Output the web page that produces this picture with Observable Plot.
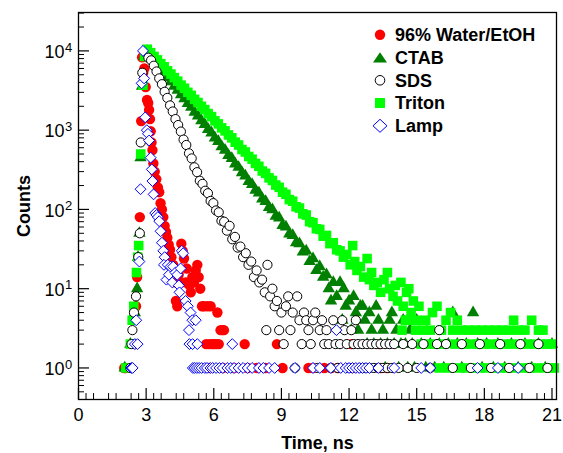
<!DOCTYPE html>
<html><head><meta charset="utf-8">
<script src="https://cdn.jsdelivr.net/npm/d3@7"></script>
<script src="https://cdn.jsdelivr.net/npm/@observablehq/plot@0.6"></script>
<style>
html,body{margin:0;padding:0;background:#fff;}
#wrap{position:relative;width:563px;height:453px;}
#overlay{position:absolute;left:0;top:0;pointer-events:none;}
</style></head><body>
<div id="wrap"><div id="chart"></div><svg id="overlay" width="563" height="453"></svg></div>
<script>
// ---- tick labels ----
const xTickValues = [0,3,6,9,12,15,18,21];
const xTickLabels = ["0","3","6","9","12","15","18","21"];
const yTickValues = [1,10,100,1000,10000];
const yTickExp = ["0","1","2","3","4"];
const seriesNames = ["96% Water/EtOH","CTAB","SDS","Triton","Lamp"];

// ---- data: [time (ns), counts] ----
const water = [[2.03,1],[2.09,1],[2.5,2],[2.55,6],[2.6,14],[2.72,80],[2.78,1300],[2.82,8300],[2.87,5300],[2.92,6000],[2.98,3500],[3.04,2400],[3.09,2200],[3.13,1800],[3.17,1380],[3.2,970],[3.24,700],[3.28,560],[3.32,380],[3.38,300],[3.45,240],[3.52,190],[3.58,165],[3.64,120],[3.7,100],[3.76,80],[3.82,62],[3.88,52],[3.94,44],[4.0,36],[4.06,31],[4.12,25],[4.2,20],[4.27,12],[4.32,7],[4.38,6],[4.44,15],[4.5,12],[4.56,37],[4.62,30],[4.68,24],[4.74,12],[4.8,18],[4.87,12],[4.93,11],[4.98,9],[5.05,14],[5.12,12],[5.2,17],[5.27,20],[5.33,14],[5.4,10],[5.48,6],[5.57,6],[5.66,2],[5.72,6],[5.8,2],[5.86,6],[5.93,2],[6.0,2],[6.1,2],[6.16,5],[6.22,2],[6.3,3],[6.38,3],[6.45,3],[5.8,1],[6.4,1],[6.9,1],[7.37,2],[7.5,1],[7.9,1],[8.3,1],[8.8,2],[9.05,1],[10.2,1],[10.4,1],[10.9,1],[11.2,1],[11.5,1],[12.1,2],[12.15,1],[13.35,2],[13.4,1],[13.7,1]];

const ctab = [[2.05,1],[2.3,2],[2.5,5],[2.6,10],[2.64,25],[2.7,50],[2.75,450],[2.82,3600],[2.92,8600],[3.05,9800],[3.2,8700],[3.35,7600],[3.5,6800],[3.65,5900],[3.8,5300],[3.95,4600],[4.1,4100],[4.25,3600],[4.4,3200],[4.55,2800],[4.7,2500],[4.85,2180],[5.0,1950],[5.15,1690],[5.3,1510],[5.45,1320],[5.6,1180],[5.75,1020],[5.9,920],[6.05,800],[6.2,720],[6.35,620],[6.5,560],[6.65,480],[6.8,440],[6.95,375],[7.1,340],[7.25,290],[7.4,265],[7.55,226],[7.7,207],[7.85,175],[8.0,162],[8.15,136],[8.3,126],[8.45,106],[8.6,99],[8.75,82],[8.9,78],[9.05,63],[9.2,60],[9.35,49],[9.5,47],[9.65,38],[9.8,37],[9.95,29],[10.1,30],[10.25,22],[10.4,24],[10.55,17],[10.7,19],[10.85,14],[11.0,15],[11.1,10],[11.2,7],[11.3,12],[11.45,8],[11.6,12],[11.7,4],[11.76,10],[11.85,6],[12.0,7],[12.1,3],[12.2,8],[12.3,5],[12.4,3],[12.5,6],[12.6,6],[12.7,4],[12.8,2],[12.9,5],[13.0,3],[13.1,2],[13.2,6],[13.3,4],[13.4,2],[13.5,3],[13.6,1],[13.7,2],[13.8,4],[13.9,5],[14.0,2],[14.1,3],[14.2,1],[14.3,2],[14.4,4],[14.5,2],[14.6,1],[14.7,3],[14.8,2],[14.9,1],[15.0,4],[15.2,2],[15.4,1],[15.6,2],[15.8,1],[16.0,2],[16.2,1],[16.4,2],[16.6,5],[16.8,2],[17.0,1],[17.2,2],[17.5,5],[17.7,2],[17.9,1],[18.1,2],[18.4,1],[18.6,2],[18.9,1],[19.2,2],[19.5,1],[19.8,2],[20.1,1],[20.4,2],[20.7,1],[21.0,2]];

const sds = [[2.3,1],[2.35,2],[2.39,3],[2.46,5],[2.55,8],[2.65,25],[2.72,50],[2.76,700],[2.83,5300],[3.1,8200],[3.22,7600],[3.34,6500],[3.46,5500],[3.58,4500],[3.7,3800],[3.82,3050],[3.94,2550],[4.06,2050],[4.18,1720],[4.3,1380],[4.42,1160],[4.54,960],[4.66,760],[4.78,650],[4.9,510],[5.02,440],[5.14,340],[5.26,295],[5.38,230],[5.5,210],[5.62,172],[5.74,160],[5.86,128],[5.98,120],[6.1,97],[6.22,92],[6.34,72],[6.46,70],[6.58,54],[6.7,62],[6.82,42],[6.94,45],[7.06,33],[7.18,34],[7.3,25],[7.42,28],[7.54,20],[7.66,22],[7.78,14],[7.9,17],[8.02,12],[8.14,13],[8.26,9],[8.33,3],[8.38,20],[8.5,8],[8.6,10],[8.7,6],[8.8,7],[8.9,3],[9.0,5],[9.1,2],[9.2,6],[9.3,8],[9.4,3],[9.5,5],[9.6,1],[9.7,8],[9.8,4],[9.9,2],[10.0,5],[10.1,4],[10.2,3],[10.3,2],[10.4,4],[10.5,5],[10.6,1],[10.7,3],[10.8,4],[10.9,2],[11.0,3],[11.1,2],[11.2,1],[11.3,4],[11.4,2],[11.5,1],[11.6,2],[11.7,4],[11.8,3],[11.9,2],[12.0,1],[12.1,3],[12.2,2],[12.3,4],[12.4,2],[12.5,1],[12.6,2],[12.7,1],[12.8,2],[12.9,1],[13.0,2],[13.1,1],[13.2,2],[13.3,1],[13.4,2],[13.5,1],[13.6,2],[13.7,1],[13.8,2],[13.9,1],[14.0,2],[14.2,1],[14.4,2],[14.6,1],[14.8,2],[15.0,1],[15.3,2],[15.6,1],[15.9,2],[16.0,3],[16.3,2],[16.6,1],[17.0,2],[17.4,1],[17.8,2],[18.3,1],[18.7,2],[19.1,1],[19.6,2],[20.0,1],[20.4,2],[20.8,1]];

const triton = [[2.1,1],[2.3,2],[2.38,4],[2.45,6],[2.57,16],[2.63,25],[2.67,35],[2.76,500],[2.86,3700],[2.93,8500],[3.05,10500],[3.2,9500],[3.35,8500],[3.5,7700],[3.65,6900],[3.8,6300],[3.95,5600],[4.1,5100],[4.25,4600],[4.4,4150],[4.55,3700],[4.7,3380],[4.85,3000],[5.0,2750],[5.15,2450],[5.3,2230],[5.45,2000],[5.6,1820],[5.75,1620],[5.9,1480],[6.05,1310],[6.2,1200],[6.35,1070],[6.5,980],[6.65,870],[6.8,800],[6.95,705],[7.1,650],[7.25,570],[7.4,530],[7.55,465],[7.7,430],[7.85,380],[8.0,350],[8.15,305],[8.3,285],[8.45,250],[8.6,232],[8.75,203],[8.9,190],[9.05,165],[9.2,155],[9.35,133],[9.5,127],[9.65,108],[9.8,104],[9.95,88],[10.1,85],[10.25,70],[10.4,68],[10.55,57],[10.7,56],[10.85,46],[11.0,47],[11.15,37],[11.3,38],[11.45,31],[11.6,30],[11.75,25],[11.9,27],[12.05,20],[12.16,35],[12.25,22],[12.35,17],[12.5,19],[12.65,14],[12.8,24],[12.9,13],[13.0,16],[13.1,11],[13.25,12],[13.4,9],[13.55,13],[13.7,16],[13.8,10],[13.95,8],[14.05,11],[14.15,7],[14.3,12],[14.35,3],[14.4,6],[14.5,4],[14.55,9],[14.6,4],[14.65,10],[14.75,5],[14.85,7],[14.95,3],[15.0,4],[15.1,6],[15.2,2],[15.3,3],[15.4,4],[15.5,2],[15.6,3],[15.7,5],[15.8,2],[15.9,6],[16.0,1],[16.1,3],[16.2,2],[16.3,4],[16.4,1],[16.5,5],[16.6,3],[16.7,2],[16.8,4],[16.9,1],[17.0,3],[17.1,2],[17.2,1],[17.3,3],[17.4,2],[17.5,1],[17.6,3],[17.7,2],[17.8,1],[17.9,3],[18.0,2],[18.1,1],[18.2,3],[18.3,2],[18.4,1],[18.5,3],[18.6,2],[18.7,1],[18.8,3],[18.9,2],[19.0,1],[19.1,3],[19.2,2],[19.3,4],[19.4,1],[19.5,3],[19.6,2],[19.7,1],[19.8,3],[19.9,2],[20.0,1],[20.1,4],[20.2,2],[20.3,1],[20.4,3],[20.5,2],[20.6,3],[20.7,1],[20.8,2],[20.9,1],[21.0,2],[21.1,1]];

const lamp = [[2.35,1],[2.4,1],[2.5,2],[2.62,2],[2.56,4],[2.7,22],[2.75,180],[2.8,3900],[2.86,10000],[2.91,4500],[2.96,1450],[3.03,1000],[3.08,900],[3.13,740],[3.2,450],[3.25,320],[3.28,228],[3.33,155],[3.4,90],[3.46,85],[3.52,80],[3.58,71],[3.64,53],[3.7,38],[3.76,30],[3.82,25],[3.79,20],[3.9,13],[3.96,20],[4.01,15],[4.08,19],[4.16,12],[4.2,19],[4.3,16],[4.38,15],[4.45,11],[4.48,9],[4.53,18],[4.58,30],[4.64,28],[4.75,7],[4.85,6],[4.97,5],[5.05,4],[5.2,4],[4.9,3],[4.92,2],[5.06,2],[5.27,2],[6.82,2],[11.44,3],[5.07,1],[5.15,1],[5.25,1],[5.35,1],[5.46,1],[5.6,1],[5.7,1],[5.85,1],[5.95,1],[6.1,1],[6.25,1],[6.4,1],[6.6,1],[6.75,1],[6.9,1],[7.1,1],[7.3,1],[7.5,1],[7.7,1],[8.0,1],[8.2,1],[8.45,1],[8.7,1],[9.6,1],[10.4,1],[10.7,1],[11.19,1],[11.63,1],[11.85,1],[12.0,1],[12.15,1],[12.3,1],[12.45,1],[12.6,1],[12.75,1],[12.9,1],[13.3,1],[14.0,1],[15.2,1],[15.6,1],[17.7,1],[18.6,1],[19.5,1]];

// ---- layout ----
const W = 563, H = 453, mL = 78, mR = 7, mT = 12, mB = 54;
const plotW = W - mL - mR, plotH = H - mT - mB;
const xMinor = d3.range(1, 64).filter(i => i % 3).map(i => i / 3);
const yMinor = [];
for (let k = -1; k <= 4; k++) for (let m = 2; m <= 9; m++) { const v = m * Math.pow(10, k); if (v >= 0.4 && v <= 30500) yMinor.push(v); }

const font = "'Liberation Sans', Arial, Helvetica, sans-serif";
const px = d => d[0], py = d => d[1];

const chart = Plot.plot({
  width: W, height: H,
  marginLeft: mL, marginRight: mR, marginTop: mT, marginBottom: mB,
  style: {fontFamily: font, fontSize: "18px", background: "white", color: "black"},
  x: {domain: [0, 21.2], axis: null},
  y: {type: "log", domain: [0.4, 30500], axis: null},
  marks: [
    Plot.dot(water, {x: px, y: py, r: 5.2, fill: "#ff0000"}),
    Plot.dot(ctab, {x: px, y: py, symbol: "triangle", r: 4.6, fill: "#007f00"}),
    Plot.dot(triton, {x: px, y: py, symbol: "square", r: 5.4, fill: "#00ff00"}),
    Plot.dot(sds, {x: px, y: py, r: 4.6, fill: "white", stroke: "black", strokeWidth: 1}),
    Plot.dot(lamp, {x: px, y: py, symbol: "diamond2", r: 4.9, fill: "white", stroke: "#0000ff", strokeWidth: 1}),
    Plot.ruleX(xTickValues, {x: d => d, insetTop: plotH - 11, stroke: "black", strokeWidth: 1.2}),
    Plot.ruleX(xMinor, {x: d => d, insetTop: plotH - 6, stroke: "black", strokeWidth: 1}),
    Plot.ruleY(yTickValues, {y: d => d, insetRight: plotW - 11, stroke: "black", strokeWidth: 1.2}),
    Plot.ruleY(yMinor, {y: d => d, insetRight: plotW - 6, stroke: "black", strokeWidth: 1}),
    Plot.frame({stroke: "black", strokeWidth: 1.3}),
    Plot.text(xTickValues, {x: d => d, text: (d, i) => xTickLabels[i], frameAnchor: "bottom", lineAnchor: "bottom", dy: 21.5, fontSize: 18}),
    Plot.text(yTickValues, {y: d => d, text: () => "10", frameAnchor: "left", textAnchor: "end", lineAnchor: "bottom", dx: -14, dy: 7.3, fontSize: 18}),
    Plot.text(yTickValues, {y: d => d, text: (d, i) => yTickExp[i], frameAnchor: "left", textAnchor: "start", lineAnchor: "bottom", dx: -13.5, dy: 0.7, fontSize: 13}),
    Plot.text(["Time, ns"], {frameAnchor: "bottom", lineAnchor: "bottom", dy: 49, fontSize: 18, fontWeight: "bold"}),
    Plot.text(["Counts"], {frameAnchor: "left", lineAnchor: "bottom", textAnchor: "middle", rotate: -90, dx: -49, fontSize: 18, fontWeight: "bold"})
  ]
});
document.getElementById("chart").appendChild(chart);

// ---- legend (overlay, inside the plot frame) ----
const lg = d3.select("#overlay");
const baselines = [41.2, 63.9, 86.7, 109.4, 132.2];
const cx = 380;
seriesNames.forEach((name, i) => {
  const cy = baselines[i] - 6.4;
  if (i === 0) lg.append("circle").attr("cx", cx).attr("cy", cy).attr("r", 5.2).attr("fill", "#ff0000");
  if (i === 1) lg.append("path").attr("d", `M${cx},${cy-5.2}L${cx+7},${cy+5}L${cx-7},${cy+5}Z`).attr("fill", "#007f00");
  if (i === 2) lg.append("circle").attr("cx", cx).attr("cy", cy).attr("r", 4.8).attr("fill", "white").attr("stroke", "black").attr("stroke-width", 1);
  if (i === 3) lg.append("rect").attr("x", cx-5).attr("y", cy-5).attr("width", 10).attr("height", 10).attr("fill", "#00ff00");
  if (i === 4) lg.append("path").attr("d", `M${cx},${cy-6.5}L${cx+7},${cy}L${cx},${cy+6.5}L${cx-7},${cy}Z`).attr("fill", "white").attr("stroke", "#0000ff").attr("stroke-width", 1);
  lg.append("text").attr("x", 395).attr("y", baselines[i]).attr("font-family", font).attr("font-size", 18).attr("font-weight", "bold").attr("fill", "black").text(name);
});
</script></body></html>
